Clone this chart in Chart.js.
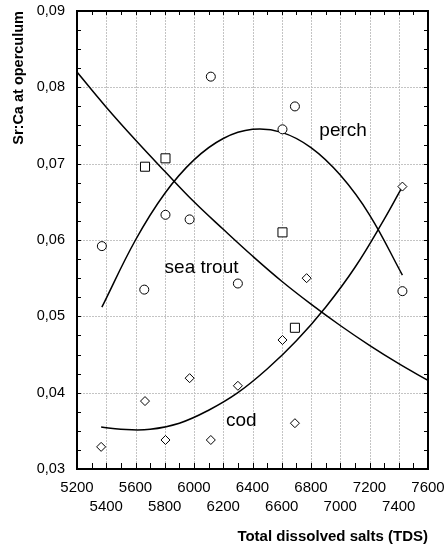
<!DOCTYPE html>
<html>
<head>
<meta charset="utf-8">
<script src="https://cdn.jsdelivr.net/npm/chart.js@4/dist/chart.umd.min.js"></script>
<style>
  body { margin: 0; background: #fff; }
  canvas { display: block; }
</style>
</head>
<body>
<canvas id="chart" width="445" height="548"></canvas>
<script>
// measured points
var perchX = [5370, 5660, 5805, 5970, 6115, 6300, 6605, 6690, 7425];
var perchY = [0.0592, 0.0535, 0.0633, 0.0627, 0.0814, 0.0543, 0.0745, 0.0775, 0.0533];
var troutX = [5665, 5805, 6605, 6690];
var troutY = [0.0696, 0.0707, 0.0610, 0.0485];
var codX = [5365, 5665, 5805, 5970, 6115, 6300, 6605, 6690, 6770, 7425];
var codY = [0.0329, 0.0389, 0.0338, 0.0419, 0.0338, 0.0409, 0.0469, 0.0360, 0.0550, 0.0670];

// fitted curves
var troutFitX = [5200, 5400, 5600, 5800, 6000, 6200, 6400, 6600, 6800, 7000, 7200, 7400, 7600];
var troutFitY = [0.0820, 0.0774, 0.0731, 0.0690, 0.0650, 0.0614, 0.0579, 0.0546, 0.0516, 0.0488, 0.0462, 0.0438, 0.0416];
var perchFitX = [5370, 5600, 5800, 6000, 6200, 6400, 6600, 6800, 7000, 7200, 7425];
var perchFitY = [0.0512, 0.0600, 0.0661, 0.0705, 0.0733, 0.0745, 0.0741, 0.0721, 0.0685, 0.0633, 0.0554];
var codFitX = [5365, 5500, 5700, 5900, 6100, 6300, 6500, 6700, 6900, 7100, 7300, 7425];
var codFitY = [0.0355, 0.0352, 0.0352, 0.0360, 0.0377, 0.0400, 0.0431, 0.0468, 0.0512, 0.0564, 0.0627, 0.0670];

// axis ticks
var xTicks = [5200, 5400, 5600, 5800, 6000, 6200, 6400, 6600, 6800, 7000, 7200, 7400, 7600];
var yTicks = [0.03, 0.04, 0.05, 0.06, 0.07, 0.08, 0.09];

// curve names and where they sit (data units)
var curveNames = ['perch', 'sea trout', 'cod'];
var nameX = [6857, 5799, 6218];
var nameY = [0.0736, 0.0557, 0.0356];

var FONT = "'Liberation Sans', Arial, sans-serif";

let pts = (xs, ys) => xs.map((x, i) => ({x: x, y: ys[i]}));

let fitLine = (xs, ys) => ({
	data: pts(xs, ys),
	showLine: true,
	borderColor: '#000',
	borderWidth: 1.5,
	pointRadius: 0,
	tension: 0.4,
	order: 2
});

let markers = (xs, ys, style, r) => ({
	data: pts(xs, ys),
	showLine: false,
	pointStyle: style,
	pointRadius: r,
	pointBackgroundColor: '#fff',
	pointBorderColor: '#000',
	pointBorderWidth: 1,
	order: 1
});

// dotted grid under the data
var gridPlugin = {
	id: 'dotgrid',
	beforeDatasetsDraw(chart) {
		var ctx = chart.ctx, a = chart.chartArea;
		var xs = chart.scales.x, ys = chart.scales.y;
		ctx.save();
		ctx.strokeStyle = '#c4c4c4';
		ctx.lineWidth = 1;
		ctx.setLineDash([2, 1]);
		ctx.beginPath();
		xTicks.slice(1, -1).forEach(v => {
			var px = Math.round(xs.getPixelForValue(v)) + 0.5;
			ctx.moveTo(px, a.top); ctx.lineTo(px, a.bottom);
		});
		yTicks.slice(1, -1).forEach(v => {
			var py = Math.round(ys.getPixelForValue(v)) + 0.5;
			ctx.moveTo(a.left, py); ctx.lineTo(a.right, py);
		});
		ctx.stroke();
		ctx.restore();
	}
};

// frame, inner tick marks and curve names
var framePlugin = {
	id: 'frame',
	afterDraw(chart) {
		var ctx = chart.ctx, a = chart.chartArea;
		var xs = chart.scales.x, ys = chart.scales.y;
		ctx.save();
		ctx.strokeStyle = '#000';
		ctx.lineWidth = 1;
		ctx.beginPath();
		for (var i = 0; i < xTicks.length; i++) {
			var vals = [xTicks[i]];
			if (i < xTicks.length - 1) vals.push((xTicks[i] + xTicks[i + 1]) / 2);
			vals.forEach(v => {
				var px = Math.round(xs.getPixelForValue(v)) + 0.5;
				ctx.moveTo(px, a.bottom); ctx.lineTo(px, a.bottom - 6);
				ctx.moveTo(px, a.top); ctx.lineTo(px, a.top + 4);
			});
		}
		for (var j = 0; j < yTicks.length - 1; j++) {
			for (var k = 0; k < 4; k++) {
				var v = yTicks[j] + (yTicks[j + 1] - yTicks[j]) * k / 4;
				var py = Math.round(ys.getPixelForValue(v)) + 0.5;
				ctx.moveTo(a.left, py); ctx.lineTo(a.left + 4, py);
				ctx.moveTo(a.right, py); ctx.lineTo(a.right - 4, py);
			}
		}
		ctx.stroke();
		ctx.lineWidth = 2;
		ctx.strokeRect(a.left, a.top, a.right - a.left, a.bottom - a.top);

		ctx.fillStyle = '#000';
		ctx.font = '19px ' + FONT;
		ctx.textAlign = 'left';
		ctx.textBaseline = 'alphabetic';
		curveNames.forEach((n, i) => {
			ctx.fillText(n, xs.getPixelForValue(nameX[i]), ys.getPixelForValue(nameY[i]));
		});
		ctx.restore();
	}
};

var myChart = new Chart(document.getElementById('chart').getContext('2d'), {
	type: 'scatter',
	data: {
		datasets: [
			fitLine(troutFitX, troutFitY),
			fitLine(perchFitX, perchFitY),
			fitLine(codFitX, codFitY),
			markers(perchX, perchY, 'circle', 4.5),
			markers(troutX, troutY, 'rect', 6.4),
			markers(codX, codY, 'rectRot', 4.5)
		]
	},
	options: {
		responsive: false,
		animation: false,
		layout: { padding: { left: 0, right: 17, top: 11, bottom: 0 } },
		plugins: { legend: { display: false }, tooltip: { enabled: false } },
		scales: {
			x: {
				type: 'linear',
				min: 5200,
				max: 7600,
				afterBuildTicks: s => { s.ticks = xTicks.map(v => ({value: v})); },
				afterFit: s => { s.height = 79; s.paddingLeft = 0; s.paddingRight = 0; },
				border: { display: false },
				grid: { display: false, drawTicks: false },
				ticks: {
					autoSkip: false,
					maxRotation: 0,
					padding: 10,
					color: '#000',
					font: { family: FONT, size: 15, lineHeight: 1.23 },
					callback: (v, i) => i % 2 === 0 ? String(v) : ['', String(v)]
				},
				title: {
					display: true,
					text: 'Total dissolved salts (TDS)',
					align: 'end',
					color: '#000',
					padding: { top: 0, bottom: 2 },
					font: { family: FONT, size: 15, weight: 'bold', lineHeight: 1.2 }
				}
			},
			y: {
				type: 'linear',
				min: 0.03,
				max: 0.09,
				afterBuildTicks: s => { s.ticks = yTicks.map(v => ({value: v})); },
				afterFit: s => { s.width = 77; s.paddingTop = 0; s.paddingBottom = 0; },
				border: { display: false },
				grid: { display: false, drawTicks: false },
				ticks: {
					padding: 12,
					color: '#000',
					font: { family: FONT, size: 14.5 },
					callback: v => v.toFixed(2).replace('.', ',')
				},
				title: {
					display: true,
					text: 'Sr:Ca at operculum',
					align: 'end',
					color: '#000',
					padding: { top: 10, bottom: 0 },
					font: { family: FONT, size: 14.5, weight: 'bold', lineHeight: 1.2 }
				}
			}
		}
	},
	plugins: [gridPlugin, framePlugin]
});
</script>
</body>
</html>
